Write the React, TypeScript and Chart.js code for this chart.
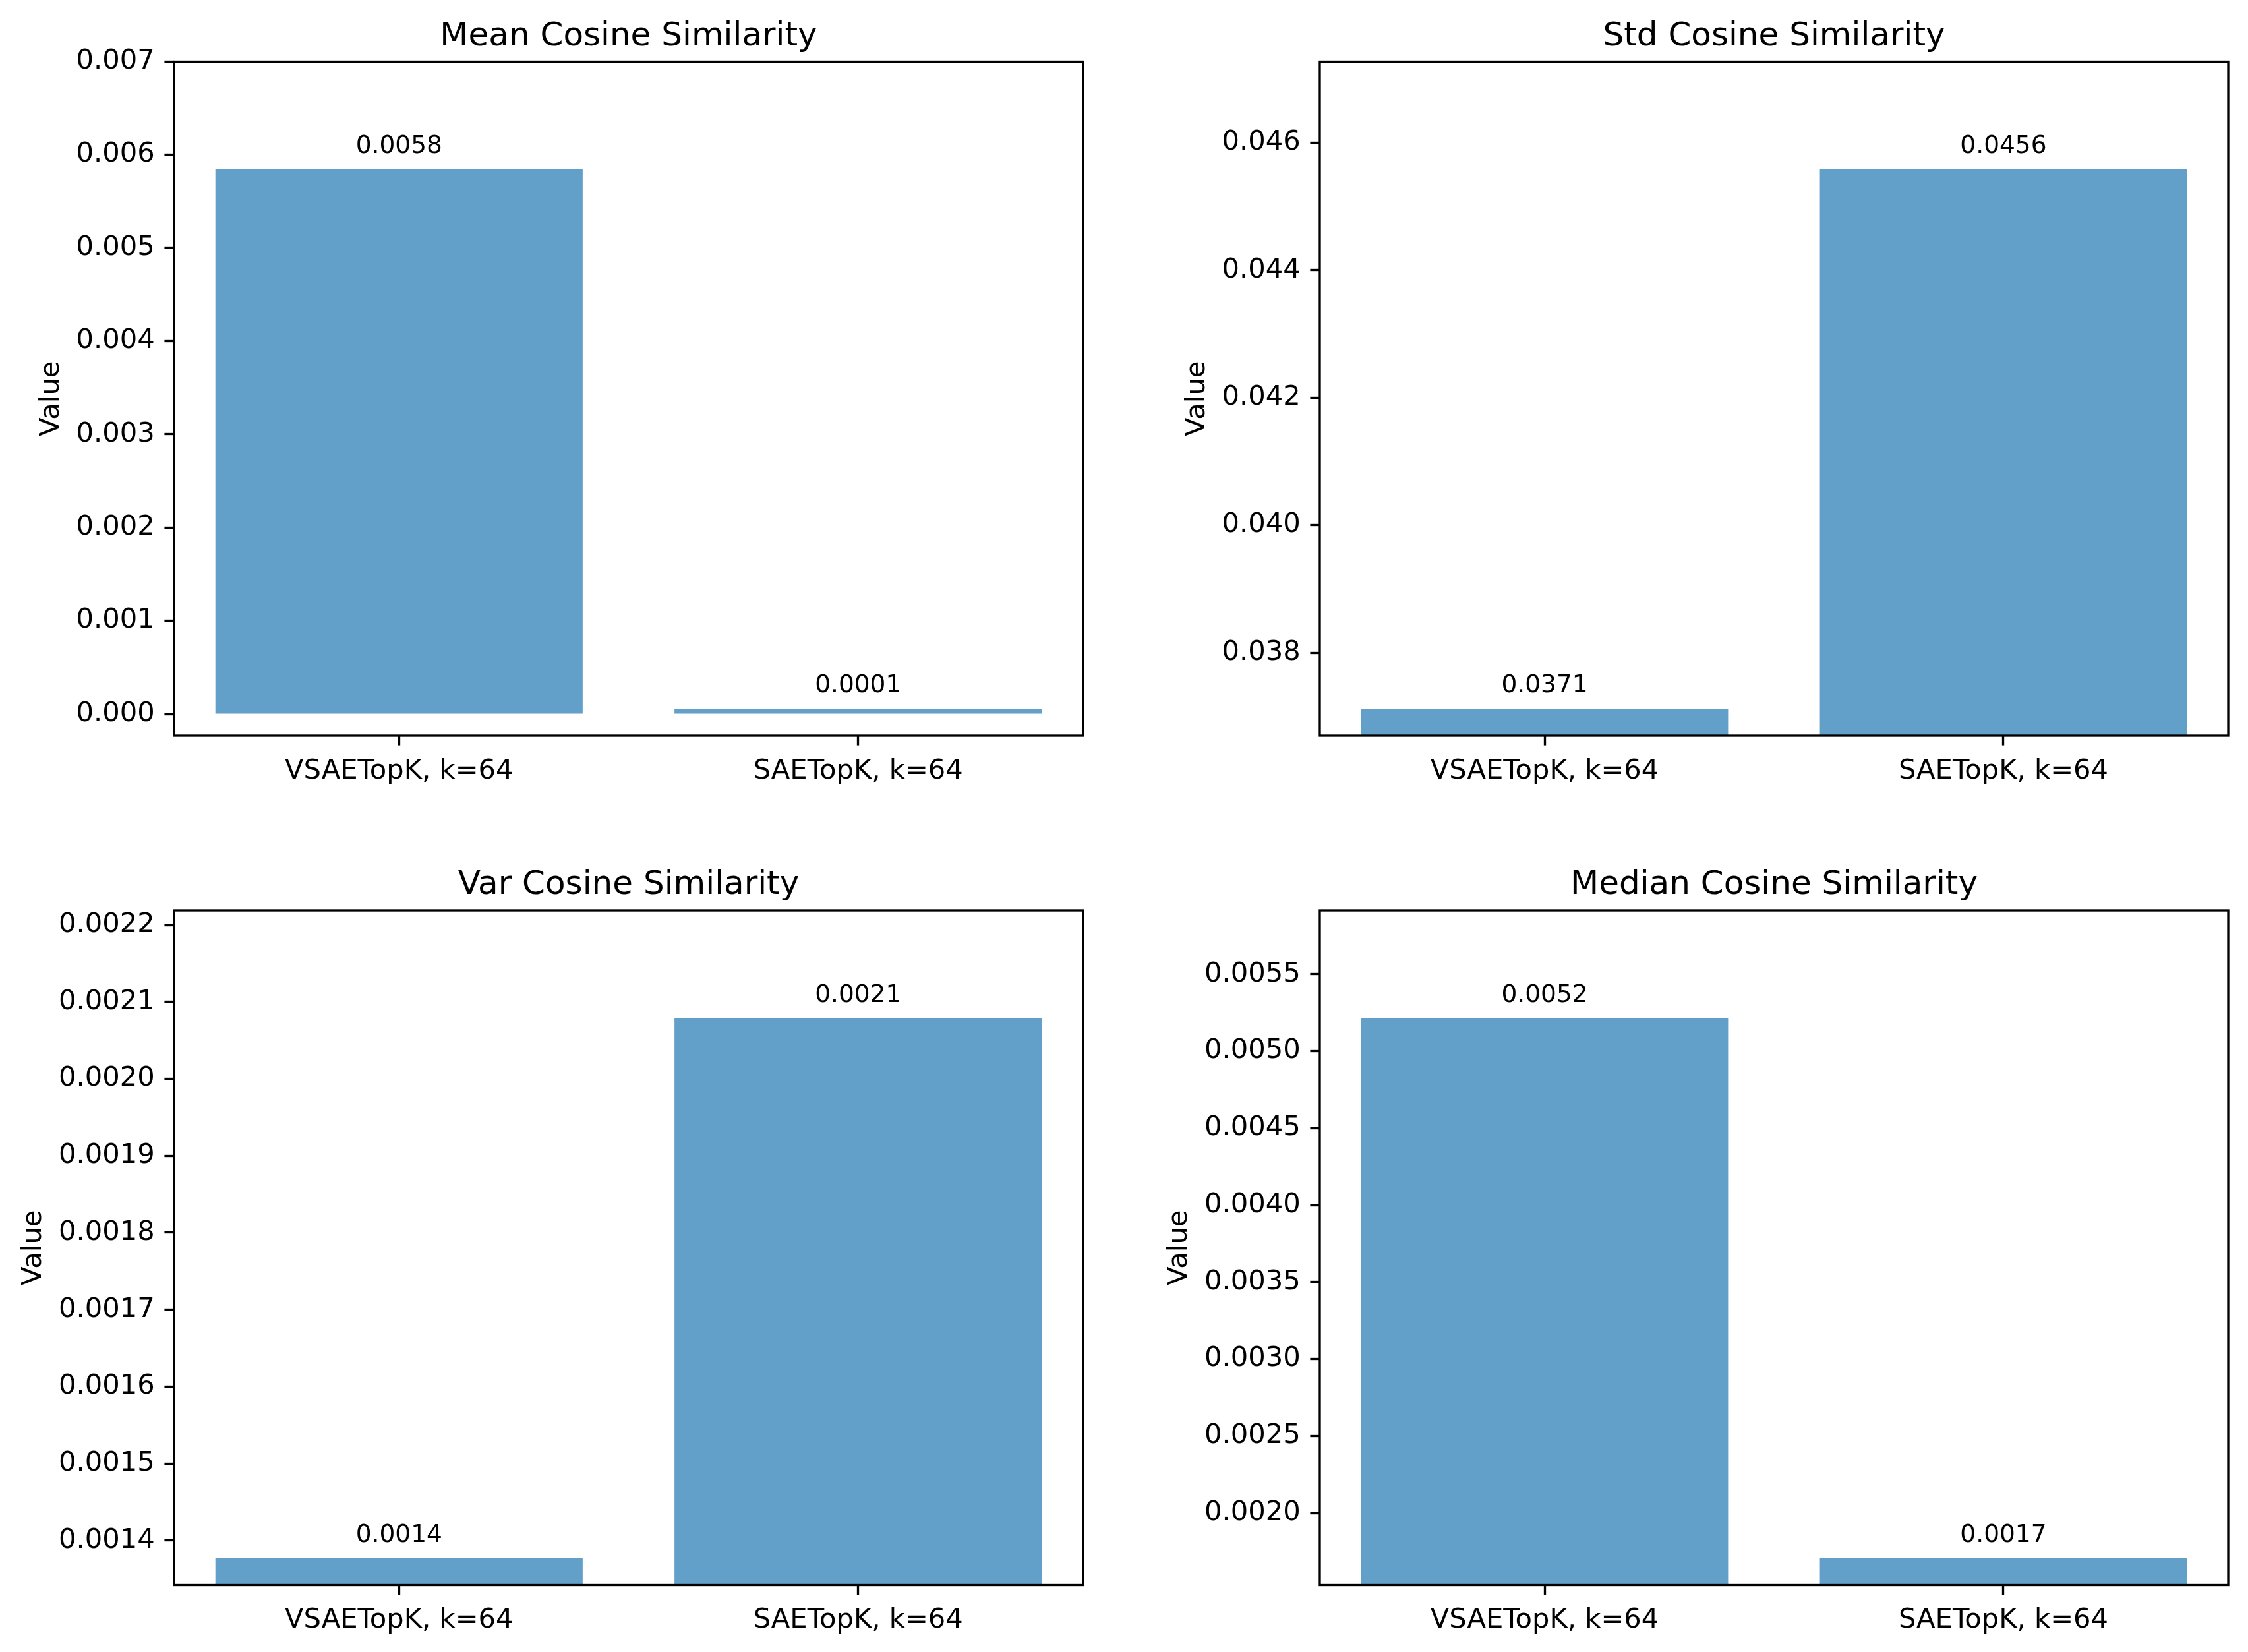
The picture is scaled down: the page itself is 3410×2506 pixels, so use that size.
import React, { useEffect, useRef } from 'react';
import { Chart, registerables } from 'chart.js';

Chart.register(...registerables);

// ---------------- data ----------------
const categories = ['VSAETopK, k=64', 'SAETopK, k=64'];

const meanValues = [0.00584, 0.0000565];
const stdValues = [0.03712, 0.04558];
const varValues = [0.0013772, 0.0020786];
const medianValues = [0.0052137, 0.0017065];

const meanTicks = [0, 0.001, 0.002, 0.003, 0.004, 0.005, 0.006, 0.007];
const stdTicks = [0.038, 0.04, 0.042, 0.044, 0.046];
const varTicks = [0.0014, 0.0015, 0.0016, 0.0017, 0.0018, 0.0019, 0.002, 0.0021, 0.0022];
const medianTicks = [0.002, 0.0025, 0.003, 0.0035, 0.004, 0.0045, 0.005, 0.0055];

const titles = ['Mean Cosine Similarity', 'Std Cosine Similarity', 'Var Cosine Similarity', 'Median Cosine Similarity'];
const yLabel = 'Value';

// ---------------- layout / style ----------------
const FIG_W = 3410;
const FIG_H = 2506;
const COL_LEFT = [264, 2002];
const COL_RIGHT = [1643, 3380];
const ROW_TOP = [93.5, 1381];
const ROW_BOTTOM = [1116, 2404.5];
const X_AXIS_H = 90;

const FONT = 'DejaVu Sans';
const TICK_PX = 41.67;
const TITLE_PX = 50;
const VALUE_PX = 37.5;
const TICK_LEN = 14.58;
const TICK_PAD = 14.58;
const LABEL_PAD = 16.67;
const LINE_W = 3.33;
const BAR_COLOR = 'rgba(31,119,180,0.7)';

type PanelDef = {
  title: string;
  values: number[];
  ticks: number[];
  decimals: number;
  col: number;
  row: number;
};

const panels: PanelDef[] = [
  { title: titles[0], values: meanValues, ticks: meanTicks, decimals: 3, col: 0, row: 0 },
  { title: titles[1], values: stdValues, ticks: stdTicks, decimals: 3, col: 1, row: 0 },
  { title: titles[2], values: varValues, ticks: varTicks, decimals: 4, col: 0, row: 1 },
  { title: titles[3], values: medianValues, ticks: medianTicks, decimals: 4, col: 1, row: 1 },
];

const decorPlugin = {
  id: 'panelDecor',
  afterDatasetsDraw(chart: any, _args: any, opts: any) {
    const ctx = chart.ctx;
    const meta = chart.getDatasetMeta(0);
    ctx.save();
    ctx.fillStyle = '#000';
    ctx.font = `${VALUE_PX}px "${FONT}"`;
    ctx.textAlign = 'center';
    ctx.textBaseline = 'alphabetic';
    meta.data.forEach((el: any, i: number) => {
      const v = opts.values[i];
      ctx.fillText(v.toFixed(4), el.x, el.y - 25);
    });
    ctx.restore();
  },
  afterDraw(chart: any, _args: any, opts: any) {
    const ctx = chart.ctx;
    const { left, right, top, bottom } = chart.chartArea;
    ctx.save();
    // spines
    ctx.strokeStyle = '#000';
    ctx.lineWidth = LINE_W;
    ctx.strokeRect(left, top, right - left, bottom - top);
    // title
    ctx.fillStyle = '#000';
    ctx.font = `${TITLE_PX}px "${FONT}"`;
    ctx.textAlign = 'center';
    ctx.textBaseline = 'alphabetic';
    ctx.fillText(opts.title, (left + right) / 2, top - 25);
    // y label
    ctx.font = `${TICK_PX}px "${FONT}"`;
    let maxW = 0;
    opts.ticks.forEach((t: number) => {
      maxW = Math.max(maxW, ctx.measureText(t.toFixed(opts.decimals)).width);
    });
    const x = left - TICK_LEN - TICK_PAD - maxW - LABEL_PAD;
    ctx.translate(x, (top + bottom) / 2);
    ctx.rotate(-Math.PI / 2);
    ctx.textAlign = 'center';
    ctx.textBaseline = 'bottom';
    ctx.fillText(yLabel, 0, 0);
    ctx.restore();
  },
};

function Panel({ p }: { p: PanelDef }) {
  const ref = useRef<HTMLCanvasElement>(null);
  useEffect(() => {
    const left = COL_LEFT[p.col];
    const right = COL_RIGHT[p.col];
    const top = ROW_TOP[p.row];
    const bottom = ROW_BOTTOM[p.row];
    const vmin = Math.min(...p.values);
    const vmax = Math.max(...p.values);
    const range = vmax - vmin;
    const yMin = vmin - 0.05 * range;
    const yMax = vmax + 0.2 * range;
    const tickFont = { family: FONT, size: TICK_PX };

    const chart = new Chart(ref.current as HTMLCanvasElement, {
      type: 'bar',
      data: {
        datasets: [
          {
            data: p.values.map((v, i) => ({ x: i, y: v })),
            backgroundColor: BAR_COLOR,
            borderWidth: 0,
            barPercentage: 0.8,
            categoryPercentage: 1.0,
          },
        ],
      },
      plugins: [decorPlugin],
      options: {
        animation: false,
        responsive: false,
        devicePixelRatio: 1,
        layout: {
          padding: {
            left: 0,
            top: top,
            right: FIG_W - right,
            bottom: FIG_H - bottom - X_AXIS_H,
          },
        },
        plugins: {
          legend: { display: false },
          tooltip: { enabled: false },
          title: { display: false },
          panelDecor: { title: p.title, values: p.values, ticks: p.ticks, decimals: p.decimals },
        } as any,
        scales: {
          x: {
            type: 'linear',
            min: -0.49,
            max: 1.49,
            offset: false,
            afterBuildTicks: (scale: any) => {
              scale.ticks = categories.map((_, i) => ({ value: i }));
            },
            afterFit: (scale: any) => {
              scale.height = X_AXIS_H;
            },
            grid: {
              offset: false,
              drawOnChartArea: false,
              drawTicks: true,
              tickLength: TICK_LEN,
              tickWidth: LINE_W,
              tickColor: '#000',
            },
            border: { display: false },
            ticks: {
              autoSkip: false,
              maxRotation: 0,
              minRotation: 0,
              padding: TICK_PAD,
              color: '#000',
              font: tickFont,
              callback: (v: any) => categories[Math.round(Number(v))] ?? '',
            },
          },
          y: {
            type: 'linear',
            min: yMin,
            max: yMax,
            afterBuildTicks: (scale: any) => {
              scale.ticks = p.ticks.map((t) => ({ value: t }));
            },
            afterFit: (scale: any) => {
              scale.width = left;
            },
            grid: {
              drawOnChartArea: false,
              drawTicks: true,
              tickLength: TICK_LEN,
              tickWidth: LINE_W,
              tickColor: '#000',
            },
            border: { display: false },
            ticks: {
              autoSkip: false,
              padding: TICK_PAD,
              color: '#000',
              font: tickFont,
              callback: (v: any) => Number(v).toFixed(p.decimals),
            },
          },
        } as any,
      },
    } as any);
    return () => chart.destroy();
  }, [p]);
  return (
    <canvas
      ref={ref}
      width={FIG_W}
      height={FIG_H}
      style={{ position: 'absolute', left: 0, top: 0, width: FIG_W, height: FIG_H }}
    />
  );
}

export default function App() {
  return (
    <div
      style={{
        position: 'absolute',
        left: 0,
        top: 0,
        width: FIG_W,
        height: FIG_H,
        background: '#fff',
        overflow: 'hidden',
      }}
    >
      {panels.map((p, i) => (
        <Panel key={i} p={p} />
      ))}
    </div>
  );
}
